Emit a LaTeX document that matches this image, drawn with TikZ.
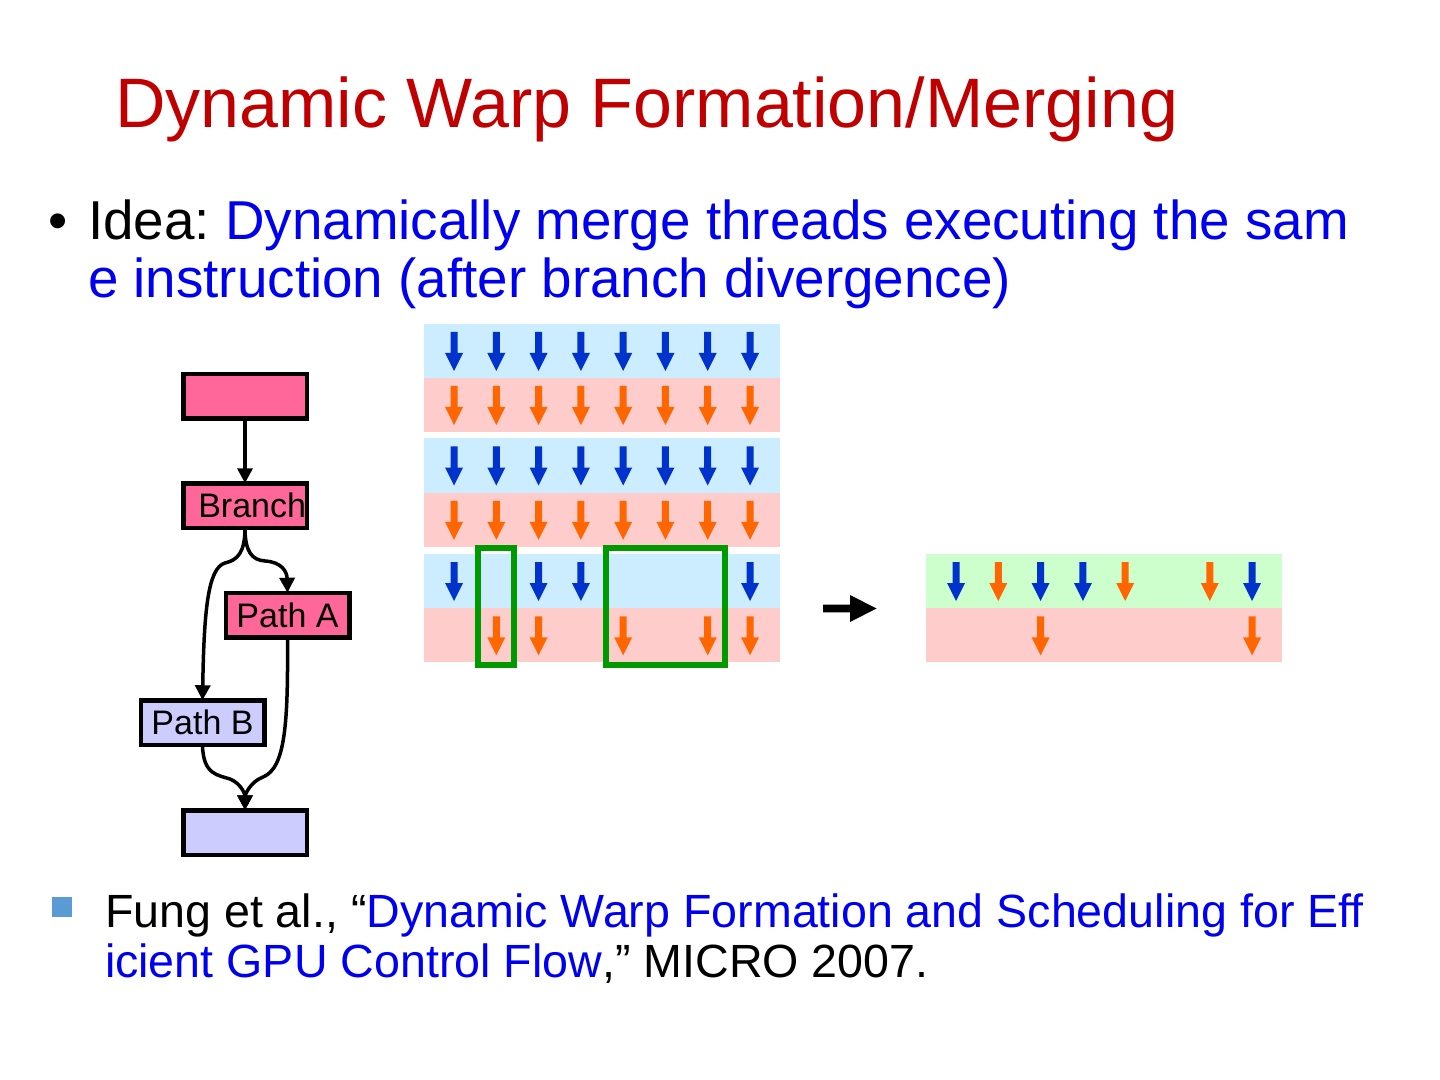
\documentclass[tikz,border=0pt]{standalone}
\usepackage{fontspec}
\setmainfont{Liberation Sans}
\usetikzlibrary{arrows.meta}
\definecolor{titlered}{RGB}{192,0,0}
\definecolor{textblue}{RGB}{0,0,240}
\definecolor{bandblue}{RGB}{204,236,255}
\definecolor{bandpink}{RGB}{255,204,204}
\definecolor{bandgreen}{RGB}{204,255,204}
\definecolor{arrowblue}{RGB}{0,51,204}
\definecolor{arroworange}{RGB}{255,102,0}
\definecolor{boxpink}{RGB}{255,102,153}
\definecolor{boxlav}{RGB}{204,204,255}
\definecolor{framegreen}{RGB}{0,153,0}
\definecolor{sqblue}{RGB}{91,155,213}
\newcommand\thrarrow[3]{\fill[#3] (#1,#2) +(-3.5,0) -- +(3.5,0) -- +(3.5,21) -- +(9,21) -- +(0,39) -- +(-9,21) -- +(-3.5,21) -- cycle;}
\frenchspacing
\begin{document}
\begin{tikzpicture}[x=0.5pt,y=-0.5pt,
  fbox/.style={draw=black,line width=2.25pt,minimum width=61.75pt,minimum height=22.25pt,inner sep=0pt,outer sep=0pt,font=\fontsize{17pt}{20pt}\selectfont},
  flow/.style={draw=black,line width=1.75pt,-{Triangle[length=7.5pt,width=7.5pt]}},
  txt/.style={anchor=base west,inner sep=0pt,outer sep=0pt},
  gframe/.style={draw=framegreen,line width=3pt},
]
\fill[white] (0,0) rectangle (1440,1080);
\useasboundingbox (0,0) rectangle (1440,1080);

% title and text
\node[txt,text=titlered,font=\fontsize{35pt}{42pt}\selectfont] (title) at (115,128) {Dynamic Warp Formation/Merging};
\node[txt,font=\fontsize{27.4pt}{33pt}\selectfont] (bul) at (48,240) {•};
\node[txt,font=\fontsize{27.4pt}{33pt}\selectfont] (l1) at (88,240) {Idea: \textcolor{textblue}{Dynamically merge threads executing the sam}};
\node[txt,text=textblue,font=\fontsize{27.4pt}{33pt}\selectfont] (l2) at (88,298) {e instruction (after branch divergence)};
\fill[sqblue] (52,897) rectangle (72,917);
\node[txt,font=\fontsize{23.3pt}{28pt}\selectfont] (r1) at (105,927) {Fung et al., “\textcolor{textblue}{Dynamic Warp Formation and Scheduling for Eff}};
\node[txt,font=\fontsize{23.3pt}{28pt}\selectfont] (r2) at (105,977) {\textcolor{textblue}{icient GPU Control Flow},” MICRO 2007.};

% flowchart
\node[fbox,fill=boxpink] (top) at (245,396.5) {};
\node[fbox,fill=boxpink] (br) at (245,505.5) {\hbox to 61.75pt{\hspace{7.5pt}Branch\hss}};
\node[fbox,fill=boxpink] (pa) at (287.5,615) {Path A};
\node[fbox,fill=boxlav] (pb) at (202.5,722.5) {Path B};
\node[fbox,fill=boxlav] (bot) at (245,832.5) {};
\draw[flow] (top) -- (br);
\draw[flow] (br.south) .. controls (245,552) and (252,560) .. (265,561) .. controls (282,562) and (287,572) .. (pa.north);
\draw[flow] (br.south) .. controls (245,552) and (238,560) .. (225,563) .. controls (208,568) and (204,610) .. (pb.north);
\draw[flow] (pb.south) .. controls (203,775) and (218,775) .. (230,779) .. controls (242,784) and (245,795) .. (bot.north);
\draw[flow] (pa.south) .. controls (288,720) and (286,768) .. (263,777) .. controls (250,782) and (245,795) .. (bot.north);

% warp grid
\fill[bandblue] (424,324) rectangle (780,378.3);
\fill[bandpink] (424,378.3) rectangle (780,432.3);
\fill[bandblue] (424,438.5) rectangle (780,492.8);
\fill[bandpink] (424,492.8) rectangle (780,546.8);
\fill[bandblue] (424,554) rectangle (780,608.3);
\fill[bandpink] (424,608.3) rectangle (780,662.3);
\foreach \i in {0,...,7}{
  \pgfmathsetmacro\xx{454+42.29*\i}
  \thrarrow{\xx}{332}{arrowblue}
  \thrarrow{\xx}{386}{arroworange}
  \thrarrow{\xx}{446.5}{arrowblue}
  \thrarrow{\xx}{500.8}{arroworange}
}
\foreach \i in {0,2,3,7}{
  \pgfmathsetmacro\xx{454+42.29*\i}
  \thrarrow{\xx}{562}{arrowblue}
}
\foreach \i in {1,2,4,6,7}{
  \pgfmathsetmacro\xx{454+42.29*\i}
  \thrarrow{\xx}{616.3}{arroworange}
}
\draw[gframe] (478,548) rectangle (514,665);
\draw[gframe] (605.7,548) rectangle (725.3,665);

% big arrow
\fill[black] (823,604.7) -- (850,604.7) -- (850,595) -- (876.5,608.5) -- (850,622) -- (850,612.3) -- (823,612.3) -- cycle;

% merged warp
\fill[bandgreen] (926,554) rectangle (1282,608.3);
\fill[bandpink] (926,608.3) rectangle (1282,662.3);
\foreach \i/\c in {0/arrowblue,1/arroworange,2/arrowblue,3/arrowblue,4/arroworange,6/arroworange,7/arrowblue}{
  \pgfmathsetmacro\xx{956+42.3*\i}
  \thrarrow{\xx}{562}{\c}
}
\foreach \i in {2,7}{
  \pgfmathsetmacro\xx{956+42.3*\i}
  \thrarrow{\xx}{616.3}{arroworange}
}
\end{tikzpicture}
\end{document}
